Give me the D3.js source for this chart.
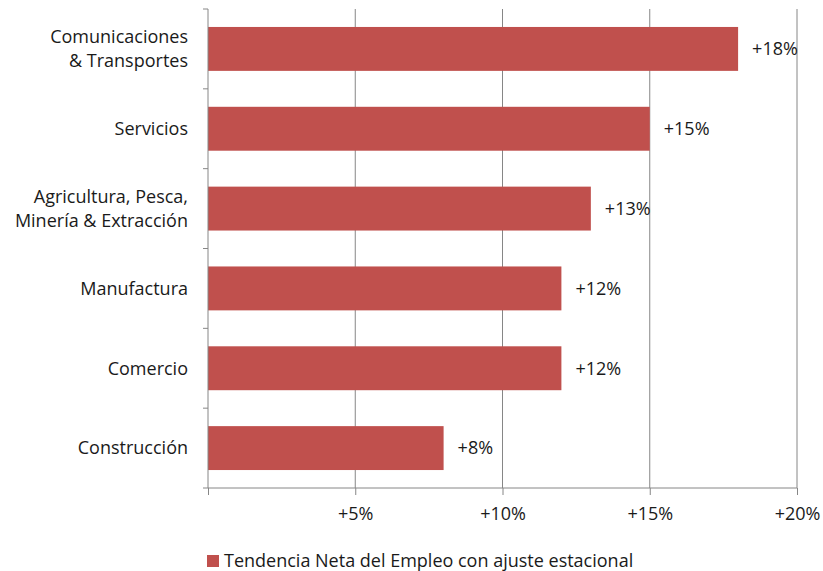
<!DOCTYPE html>
<html>
<head>
<meta charset="utf-8">
<script src="https://cdn.jsdelivr.net/npm/d3@7"></script>
<style>
  body { margin: 0; background: #fff; }
  text { font-family: "Open Sans", sans-serif; fill: #1a1a1a; }
</style>
</head>
<body>
<div id="chart"></div>
<script>
// category labels (top to bottom), lines split for wrapping
const categories = [
  ["Comunicaciones", "& Transportes"],
  ["Servicios"],
  ["Agricultura, Pesca,", "Minería & Extracción"],
  ["Manufactura"],
  ["Comercio"],
  ["Construcción"]
];
const values = [18, 15, 13, 12, 12, 8];
const xTicks = [0, 5, 10, 15, 20];
const legendLabel = "Tendencia Neta del Empleo con ajuste estacional";

const width = 823, height = 571;
const margin = { top: 9, right: 26, bottom: 83, left: 208 };
const barColor = "#c0504d";
const gridColor = "#868686";
const fontSize = 18;

const data = categories.map((c, i) => ({ key: c.join(" "), lines: c, value: values[i] }));

const svg = d3.select("#chart").append("svg")
  .attr("width", width)
  .attr("height", height);

const xScale = d3.scaleLinear()
  .domain([0, 20])
  .range([margin.left, width - margin.right]);

const yScale = d3.scaleBand()
  .domain(data.map(d => d.key))
  .range([margin.top, height - margin.bottom])
  .paddingInner(0.45)
  .paddingOuter(0.225);

const plotBottom = height - margin.bottom;

// vertical gridlines
svg.append("g")
  .selectAll("line")
  .data(xTicks.filter(t => t > 0))
  .join("line")
  .attr("x1", d => xScale(d)).attr("x2", d => xScale(d))
  .attr("y1", margin.top).attr("y2", plotBottom)
  .attr("stroke", gridColor)
  .attr("stroke-width", 1);

// bars
svg.append("g")
  .selectAll("rect")
  .data(data)
  .join("rect")
  .attr("x", xScale(0))
  .attr("y", d => yScale(d.key))
  .attr("width", d => xScale(d.value) - xScale(0))
  .attr("height", yScale.bandwidth())
  .attr("fill", barColor);

// value labels
svg.append("g")
  .selectAll("text")
  .data(data)
  .join("text")
  .attr("x", d => xScale(d.value) + 14)
  .attr("y", d => yScale(d.key) + yScale.bandwidth() / 2)
  .attr("dy", "0.35em")
  .attr("font-size", fontSize)
  .text(d => "+" + d.value + "%");

// x axis
const xAxis = d3.axisBottom(xScale)
  .tickValues(xTicks)
  .tickSize(7)
  .tickPadding(12)
  .tickFormat(d => d === 0 ? "" : "+" + d + "%");

const xAxisGroup = svg.append("g")
  .attr("transform", `translate(0, ${plotBottom})`)
  .call(xAxis);
xAxisGroup.select(".domain").attr("stroke", gridColor).attr("d", `M${xScale(0)},0H${xScale(20)}`);
xAxisGroup.selectAll(".tick line").attr("stroke", gridColor);
xAxisGroup.selectAll(".tick text").attr("font-size", fontSize).attr("fill", "#1a1a1a").attr("font-family", "Open Sans, sans-serif");

// y axis: line plus ticks at band boundaries
const boundaries = d3.range(data.length + 1).map(i => margin.top + i * (plotBottom - margin.top) / data.length);
const yAxisGroup = svg.append("g");
yAxisGroup.append("line")
  .attr("x1", xScale(0)).attr("x2", xScale(0))
  .attr("y1", margin.top).attr("y2", plotBottom)
  .attr("stroke", gridColor);
yAxisGroup.selectAll("line.tick")
  .data(boundaries)
  .join("line")
  .attr("class", "tick")
  .attr("x1", xScale(0) - 5).attr("x2", xScale(0))
  .attr("y1", d => d).attr("y2", d => d)
  .attr("stroke", gridColor);

// category labels
const catLabels = yAxisGroup.selectAll("text")
  .data(data)
  .join("text")
  .attr("text-anchor", "end")
  .attr("font-size", fontSize)
  .attr("y", d => yScale(d.key) + yScale.bandwidth() / 2);

const lineH = 24;
catLabels.selectAll("tspan")
  .data(d => d.lines.map((l, i) => ({ l, i, n: d.lines.length })))
  .join("tspan")
  .attr("x", xScale(0) - 20)
  .attr("dy", d => d.i === 0 ? (0.35 * fontSize - (d.n - 1) * lineH / 2) : lineH)
  .text(d => d.l);

// legend
const legend = svg.append("g").attr("transform", `translate(207, 555)`);
legend.append("rect")
  .attr("width", 12).attr("height", 12)
  .attr("fill", barColor);
legend.append("text")
  .attr("x", 17)
  .attr("y", 6)
  .attr("dy", "0.35em")
  .attr("font-size", fontSize)
  .text(legendLabel);
</script>
</body>
</html>
